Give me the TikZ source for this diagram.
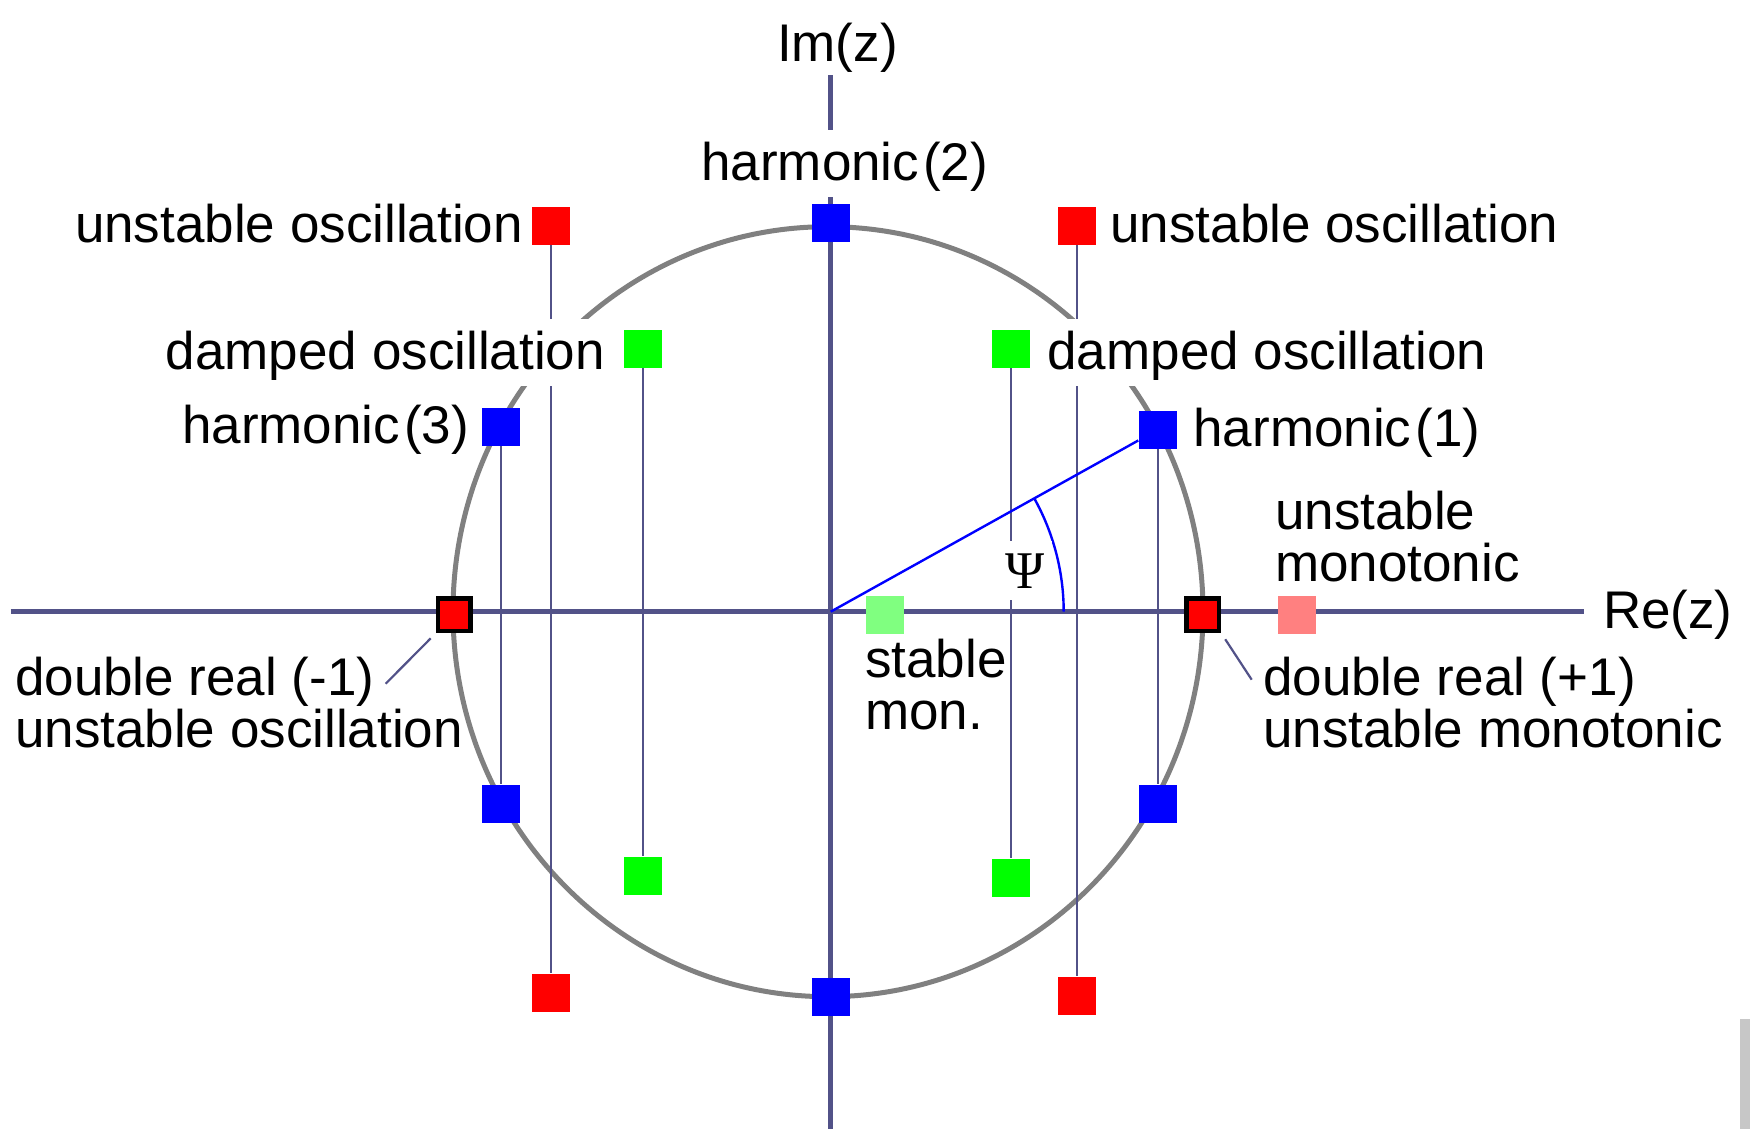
\documentclass[tikz,border=0pt]{standalone}
\usepackage{fontspec}
\setmainfont{Liberation Sans}
\newfontfamily\psifont{Liberation Serif}
\usetikzlibrary{positioning}
\definecolor{axiscol}{RGB}{82,82,136}
\definecolor{ringcol}{RGB}{128,128,128}

\begin{document}
\begin{tikzpicture}[
  x=0.5pt, y=0.5pt,
  font=\fontsize{26.5}{26}\selectfont,
  sq/.style={minimum size=19pt, inner sep=0pt},
  unst/.style={sq, fill=red},
  damp/.style={sq, fill=green},
  harm/.style={sq, fill=blue},
  dbl/.style={sq, minimum size=16.3pt, fill=red, draw=black, line width=2.4pt},
  axisline/.style={line width=2.5pt, axiscol},
  guide/.style={line width=1.1pt, axiscol},
  ring/.style={line width=2.5pt, ringcol},
  ray/.style={line width=1.2pt, blue},
  lbl/.style={fill=white, inner xsep=2pt, inner ysep=4pt,
              text height=21.2pt, text depth=4pt},
  note/.style={align=left, inner sep=2pt},
]
\useasboundingbox (-830.7,-517.3) rectangle (919.3,611.7);

% axes
\coordinate (O) at (0,0);
\coordinate (xmin) at (-820,0);
\coordinate (xmax) at (753,0);
\coordinate (ymin) at (0,-518);
\coordinate (ymax) at (0,537);
\draw[axisline] (xmin) -- (xmax);
\draw[axisline] (ymin) -- (ymax);
\node[anchor=base west, inner sep=0pt] (imlbl) at (-54,550) {Im(z)};
\node[anchor=base west, inner sep=0pt] (relbl) at (772,-17) {Re(z)};

% unit circle
\draw[ring] (-2.7,0) ellipse [x radius=375, y radius=385];

% roots
\node[harm] (b2) at (0,389) {};
\node[harm] (b2b) at (0,-385) {};
\node[harm] (b3) at (-330,185) {};
\node[harm] (b3b) at (-330,-192) {};
\node[harm] (b1) at (327,182) {};
\node[harm] (b1b) at (327,-192) {};
\node[unst] (rUL) at (-280,386) {};
\node[unst] (rLL) at (-280,-381) {};
\node[unst] (rUR) at (246,386) {};
\node[unst] (rLR) at (246,-384) {};
\node[damp] (gUL) at (-188,263) {};
\node[damp] (gLL) at (-188,-264) {};
\node[damp] (gUR) at (180,263) {};
\node[damp] (gLR) at (180,-266) {};
\node[sq, fill=green!50] (stab) at (54,-3) {};
\node[sq, fill=red!50] (pink) at (466,-3) {};
\node[dbl] (dblL) at (-376.4,-3) {};
\node[dbl] (dblR) at (372,-3) {};

\draw[guide] (rUL) -- (rLL);
\draw[guide] (rUR) -- (rLR);
\draw[guide] (gUL) -- (gLL);
\draw[guide] (gUR) -- (gLR);
\draw[guide] (b3) -- (b3b);
\draw[guide] (b1) -- (b1b);

% angle psi
\draw[ray] (O) -- (b1);
\draw[ray] (233,0) arc[start angle=0, end angle=29.1, radius=233];
\node[fill=white, inner xsep=4pt, inner ysep=6pt, font=\fontsize{26.5}{26}\psifont] (psi) at (194,41) {Ψ};

% labels
\node[lbl, left=2pt of rUL] (uoL) {unstable oscillation};
\node[lbl, right=5pt of rUR] (uoR) {unstable oscillation};
\node[lbl, left=7pt of gUL, yshift=-2pt] (doL) {damped oscillation};
\node[lbl, right=6.5pt of gUR, yshift=-2pt] (doR) {damped oscillation};
\node[lbl, left=4pt of b3] (h3) {harmonic\kern2pt(3)};
\node[lbl, right=6pt of b1] (h1) {harmonic\kern2pt(1)};
\node[lbl, above=3pt of b2, xshift=7pt] (h2) {harmonic\kern2pt(2)};

% two-line notes (base = last line)
\node[note, anchor=base west] (umono) at (440,30) {unstable\\monotonic};
\node[note, anchor=base west] (smono) at (30,-118) {stable\\mon.};
\node[note, anchor=base west] (drR) at (428,-136) {double real (+1)\\unstable monotonic};
\node[note, anchor=base west] (drL) at (-820,-136) {double real (-1)\\unstable oscillation};

\coordinate (tipR) at (421,-68);
\coordinate (tipL) at (-445,-72);
\draw[guide, shorten <=3.5pt] (dblR.south east) -- (tipR);
\draw[guide, shorten <=3.5pt] (dblL.south west) -- (tipL);

\fill[black!22] (909.3,-407.3) rectangle (919.3,-517.3);
\end{tikzpicture}
\end{document}
